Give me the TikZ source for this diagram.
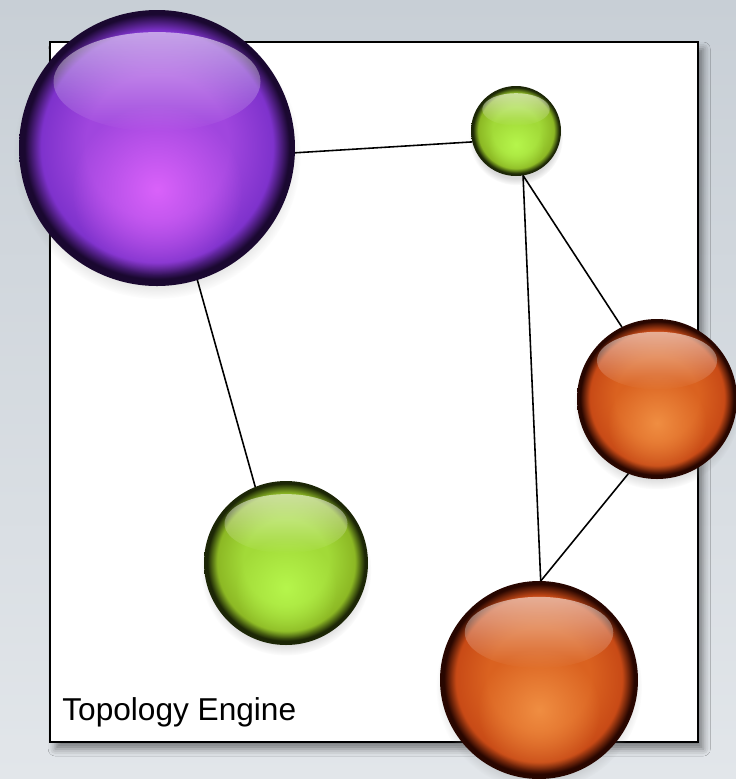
\documentclass[tikz,border=0pt]{standalone}
\usepackage{fontspec}
\setmainfont{Liberation Sans}
\usetikzlibrary{calc,fadings,shadows,shadows.blur}

\definecolor{bgtop}{RGB}{200,207,214}
\definecolor{bgbot}{RGB}{226,230,234}
\definecolor{pcen}{RGB}{218,98,250}
\definecolor{pmid}{RGB}{160,70,222}
\definecolor{pout}{RGB}{126,50,204}
\definecolor{prim}{RGB}{26,8,48}
\definecolor{gcen}{RGB}{182,246,76}
\definecolor{gmid}{RGB}{162,218,56}
\definecolor{gout}{RGB}{140,184,36}
\definecolor{grim}{RGB}{28,38,6}
\definecolor{ocen}{RGB}{240,142,66}
\definecolor{omid}{RGB}{218,98,32}
\definecolor{oout}{RGB}{200,74,22}
\definecolor{orim}{RGB}{40,6,0}

% the node edge lies at 25bp of a radial shading
\pgfdeclareradialshading{purpleball}{\pgfpoint{0bp}{0.5bp}}{color(0bp)=(pmid); color(13bp)=(pmid); color(21bp)=(pout); color(24bp)=(prim); color(50bp)=(prim)}
\pgfdeclareradialshading{limeball}{\pgfpoint{0bp}{0.5bp}}{color(0bp)=(gmid); color(13bp)=(gmid); color(21bp)=(gout); color(24bp)=(grim); color(50bp)=(grim)}
\pgfdeclareradialshading{orangeball}{\pgfpoint{0bp}{0.5bp}}{color(0bp)=(omid); color(13bp)=(omid); color(21bp)=(oout); color(24bp)=(orim); color(50bp)=(orim)}

\tikzfading[name=glossfade, top color=transparent!45, bottom color=transparent!100]
\tikzfading[name=glowfade, inner color=transparent!0, outer color=transparent!100]

\tikzset{
  ball/.style={circle, inner sep=0pt, outer sep=0pt, shade,
    circular drop shadow={shadow xshift=0pt, shadow yshift=-4pt, shadow scale=1.04, opacity=0.3}},
  gloss/.style={white, path fading=glossfade},
  glow/.style={path fading=glowfade},
  link/.style={line width=0.9pt},
}

\begin{document}
\begin{tikzpicture}[x=0.02cm, y=-0.02cm]
      \useasboundingbox (0,0) rectangle (736,779);
      \shade[top color=bgtop, bottom color=bgbot] (0,0) rectangle (736,779);
      \node[draw, line width=1.2pt, fill=white, minimum width=648*0.02cm, minimum height=700*0.02cm,
            blur shadow={shadow xshift=3pt, shadow yshift=-4pt, shadow blur radius=4pt, shadow opacity=45}] (engine) at (374,392) {};
      \node[anchor=base west, inner sep=0pt, font=\fontsize{18}{21}\selectfont] (lbl) at (62,720) {Topology Engine};
      \foreach \n/\x/\y/\r/\s/\c in {pbig/157/148/138/purpleball/pcen, gsmall/516/131/45/limeball/gcen,
                                     oright/657/399/80/orangeball/ocen, gleft/286/563/82/limeball/gcen,
                                     obottom/539/680/99/orangeball/ocen}{
        \node[ball, minimum size=2*\r*0.02cm, shading=\s] (\n) at (\x,\y) {};
        \fill[glow, \c] ($(\n)+(0,0.3*\r)$) circle [radius=0.62*\r*0.02cm];
        \fill[gloss] ($(\n)+(0,-0.48*\r)$) ellipse [x radius=0.75*\r*0.02cm, y radius=0.36*\r*0.02cm];
      }
      \draw[link] (pbig.-2) -- (gsmall.194);
      \draw[link] (pbig.-73) -- (gleft.112);
      \draw[link] (gsmall.-81) -- (oright.116);
      \draw[link] (gsmall.-81) -- (obottom.89);
      \draw[link] (oright.249) -- (obottom.89);
\end{tikzpicture}
\end{document}
